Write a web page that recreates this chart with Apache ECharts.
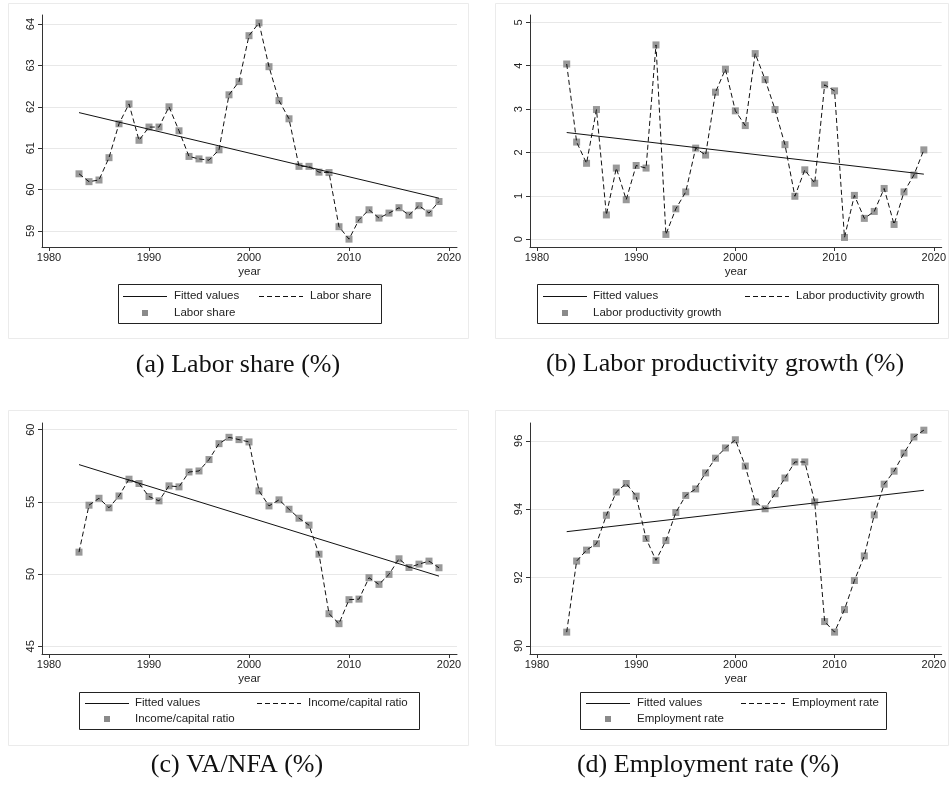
<!DOCTYPE html>
<html>
<head>
<meta charset="utf-8">
<title>Labor share, productivity, VA/NFA, employment</title>
<script src="https://cdn.jsdelivr.net/npm/echarts@6/dist/echarts.min.js"></script>
<style>
  html, body { margin: 0; padding: 0; background: #fff; }
  #main { width: 949px; height: 788px; }
</style>
</head>
<body>
<div id="main"></div>
<script>
const years = [1983, 1984, 1985, 1986, 1987, 1988, 1989, 1990, 1991, 1992,
  1993, 1994, 1995, 1996, 1997, 1998, 1999, 2000, 2001, 2002,
  2003, 2004, 2005, 2006, 2007, 2008, 2009, 2010, 2011, 2012,
  2013, 2014, 2015, 2016, 2017, 2018, 2019];

const laborShare = [60.38, 60.19, 60.23, 60.77, 61.59, 62.07, 61.19, 61.51, 61.51, 62.00,
  61.42, 60.80, 60.74, 60.71, 60.96, 62.29, 62.61, 63.72, 64.03, 62.97,
  62.15, 61.71, 60.56, 60.56, 60.42, 60.41, 59.10, 58.80, 59.27, 59.51,
  59.31, 59.43, 59.56, 59.38, 59.61, 59.43, 59.71];

const prodGrowth = [4.04, 2.24, 1.75, 2.99, 0.56, 1.64, 0.91, 1.70, 1.64, 4.48,
  0.11, 0.70, 1.09, 2.10, 1.94, 3.39, 3.92, 2.96, 2.62, 4.28,
  3.68, 2.99, 2.18, 0.99, 1.60, 1.29, 3.56, 3.42, 0.04, 1.01,
  0.48, 0.64, 1.17, 0.34, 1.09, 1.48, 2.06];

const incomeCapital = [51.52, 54.77, 55.25, 54.59, 55.41, 56.57, 56.27, 55.37, 55.07, 56.11,
  56.04, 57.07, 57.14, 57.93, 59.03, 59.47, 59.31, 59.15, 55.76, 54.72,
  55.14, 54.49, 53.87, 53.39, 51.38, 47.26, 46.57, 48.23, 48.27, 49.75,
  49.29, 49.98, 51.06, 50.46, 50.69, 50.90, 50.44];

const employment = [90.40, 92.48, 92.80, 92.99, 93.82, 94.50, 94.75, 94.38, 93.14, 92.50,
  93.08, 93.90, 94.40, 94.59, 95.06, 95.49, 95.79, 96.03, 95.26, 94.21,
  94.01, 94.45, 94.91, 95.38, 95.38, 94.21, 90.71, 90.40, 91.06, 91.91,
  92.63, 93.83, 94.73, 95.11, 95.64, 96.11, 96.31];

// fitted lines, read at the two ends
const fitYears = [1983, 2019];
const fitLabor = [61.86, 59.79];
const fitProd = [2.46, 1.50];
const fitIncome = [57.58, 49.86];
const fitEmp = [93.34, 94.55];

const xTicks = [1980, 1990, 2000, 2010, 2020];
const yTicksA = [59, 60, 61, 62, 63, 64];
const yTicksB = [0, 1, 2, 3, 4, 5];
const yTicksC = [45, 50, 55, 60];
const yTicksD = [90, 92, 94, 96];

const names = ['Labor share', 'Labor productivity growth', 'Income/capital ratio', 'Employment rate'];
const captions = ['(a) Labor share (%)', '(b) Labor productivity growth (%)', '(c) VA/NFA (%)', '(d) Employment rate (%)'];

const sans = "'Liberation Sans', Arial, sans-serif";
const serif = "'Liberation Serif', 'Times New Roman', serif";

let panels = [
  { grid: { left: 42, top: 15, width: 415, height: 232 }, ymin: 58.61, ymax: 64.22, ticks: yTicksA, vals: laborShare, fit: fitLabor,
    frame: [8, 3, 460, 335], cap: [238, 365],
    leg: { box: [118, 284, 263, 39], r1: 296, r2: 313, solid: 123, t1: 174, dash: 259, t2: 310, mk: 145 } },
  { grid: { left: 530, top: 15, width: 415, height: 232 }, ymin: -0.18, ymax: 5.17, ticks: yTicksB, vals: prodGrowth, fit: fitProd,
    frame: [495, 3, 453, 335], cap: [725, 364],
    leg: { box: [537, 284, 401, 39], r1: 296, r2: 313, solid: 543, t1: 593, dash: 745, t2: 796, mk: 565 } },
  { grid: { left: 42, top: 423, width: 415, height: 231 }, ymin: 44.47, ymax: 60.46, ticks: yTicksC, vals: incomeCapital, fit: fitIncome,
    frame: [8, 410, 460, 335], cap: [237, 765],
    leg: { box: [79, 692, 340, 37], r1: 703, r2: 719, solid: 85, t1: 135, dash: 257, t2: 308, mk: 107 } },
  { grid: { left: 530, top: 423, width: 415, height: 231 }, ymin: 89.76, ymax: 96.52, ticks: yTicksD, vals: employment, fit: fitEmp,
    frame: [495, 410, 453, 335], cap: [708, 765],
    leg: { box: [580, 692, 306, 37], r1: 703, r2: 719, solid: 586, t1: 637, dash: 741, t2: 792, mk: 608 } }
];

let grids = [], xAxes = [], yAxes = [], series = [], graphics = [];

panels.forEach((p, i) => {
  grids.push(p.grid);
  xAxes.push({
    gridIndex: i, type: 'value', min: 1979.3, max: 2020.8,
    name: 'year', nameLocation: 'middle', nameGap: 19,
    nameTextStyle: { fontFamily: sans, fontSize: 11.5, color: '#222' },
    axisLine: { show: true, onZero: false, lineStyle: { color: '#333', width: 1 } },
    axisTick: { show: true, length: 4, customValues: xTicks, lineStyle: { color: '#333' } },
    axisLabel: { customValues: xTicks, margin: 5, fontFamily: sans, fontSize: 11, color: '#222',
      formatter: v => String(v) },
    splitLine: { show: false }
  });
  yAxes.push({
    gridIndex: i, type: 'value', min: p.ymin, max: p.ymax,
    axisLine: { show: true, lineStyle: { color: '#333', width: 1 } },
    axisTick: { show: true, length: 4, customValues: p.ticks, lineStyle: { color: '#333' } },
    axisLabel: { customValues: p.ticks, rotate: 90, margin: 6, fontFamily: sans, fontSize: 11, color: '#222',
      formatter: v => String(v) },
    splitLine: { show: true, lineStyle: { color: '#e8e8e8', width: 1 } }
  });

  series.push({
    type: 'line', xAxisIndex: i, yAxisIndex: i, name: 'Fitted values',
    data: fitYears.map((y, k) => [y, p.fit[k]]),
    symbol: 'none', lineStyle: { color: '#111', width: 1 }, silent: true
  });
  series.push({
    type: 'line', xAxisIndex: i, yAxisIndex: i, name: names[i],
    data: years.map((y, k) => [y, p.vals[k]]),
    symbol: 'none', lineStyle: { color: '#111', width: 1, type: [5, 3] }, silent: true
  });
  series.push({
    type: 'scatter', xAxisIndex: i, yAxisIndex: i, name: names[i],
    data: years.map((y, k) => [y, p.vals[k]]),
    symbol: 'rect', symbolSize: 7, itemStyle: { color: '#7f7f7f' }, silent: true
  });

  // panel frame
  graphics.push({ type: 'rect', shape: { x: p.frame[0] + 0.5, y: p.frame[1] + 0.5, width: p.frame[2], height: p.frame[3] },
    style: { fill: 'none', stroke: '#ebebeb', lineWidth: 1 }, z: -1 });

  // legend box
  let L = p.leg;
  graphics.push({ type: 'rect', shape: { x: L.box[0] + 0.5, y: L.box[1] + 0.5, width: L.box[2], height: L.box[3] },
    style: { fill: '#fff', stroke: '#222', lineWidth: 1 } });
  graphics.push({ type: 'line', shape: { x1: L.solid, y1: L.r1 + 0.5, x2: L.solid + 44, y2: L.r1 + 0.5 },
    style: { stroke: '#111', lineWidth: 1 } });
  graphics.push({ type: 'line', shape: { x1: L.dash, y1: L.r1 + 0.5, x2: L.dash + 44, y2: L.r1 + 0.5 },
    style: { stroke: '#111', lineWidth: 1, lineDash: [5, 3] } });
  graphics.push({ type: 'rect', shape: { x: L.mk - 3, y: L.r2 - 3, width: 6, height: 6 },
    style: { fill: '#8a8a8a' } });
  graphics.push({ type: 'text', x: L.t1, y: L.r1, style: { text: 'Fitted values', font: '11.5px ' + sans, fill: '#222', verticalAlign: 'middle' } });
  graphics.push({ type: 'text', x: L.t2, y: L.r1, style: { text: names[i], font: '11.5px ' + sans, fill: '#222', verticalAlign: 'middle' } });
  graphics.push({ type: 'text', x: L.t1, y: L.r2, style: { text: names[i], font: '11.5px ' + sans, fill: '#222', verticalAlign: 'middle' } });

  // caption under the panel
  graphics.push({ type: 'text', x: p.cap[0], y: p.cap[1],
    style: { text: captions[i], font: '26px ' + serif, fill: '#111', align: 'center', verticalAlign: 'middle' } });
});

let chart = echarts.init(document.getElementById('main'), null, { renderer: 'canvas' });
chart.setOption({
  animation: false,
  backgroundColor: '#fff',
  grid: grids,
  xAxis: xAxes,
  yAxis: yAxes,
  series: series,
  graphic: graphics
});
</script>
</body>
</html>
